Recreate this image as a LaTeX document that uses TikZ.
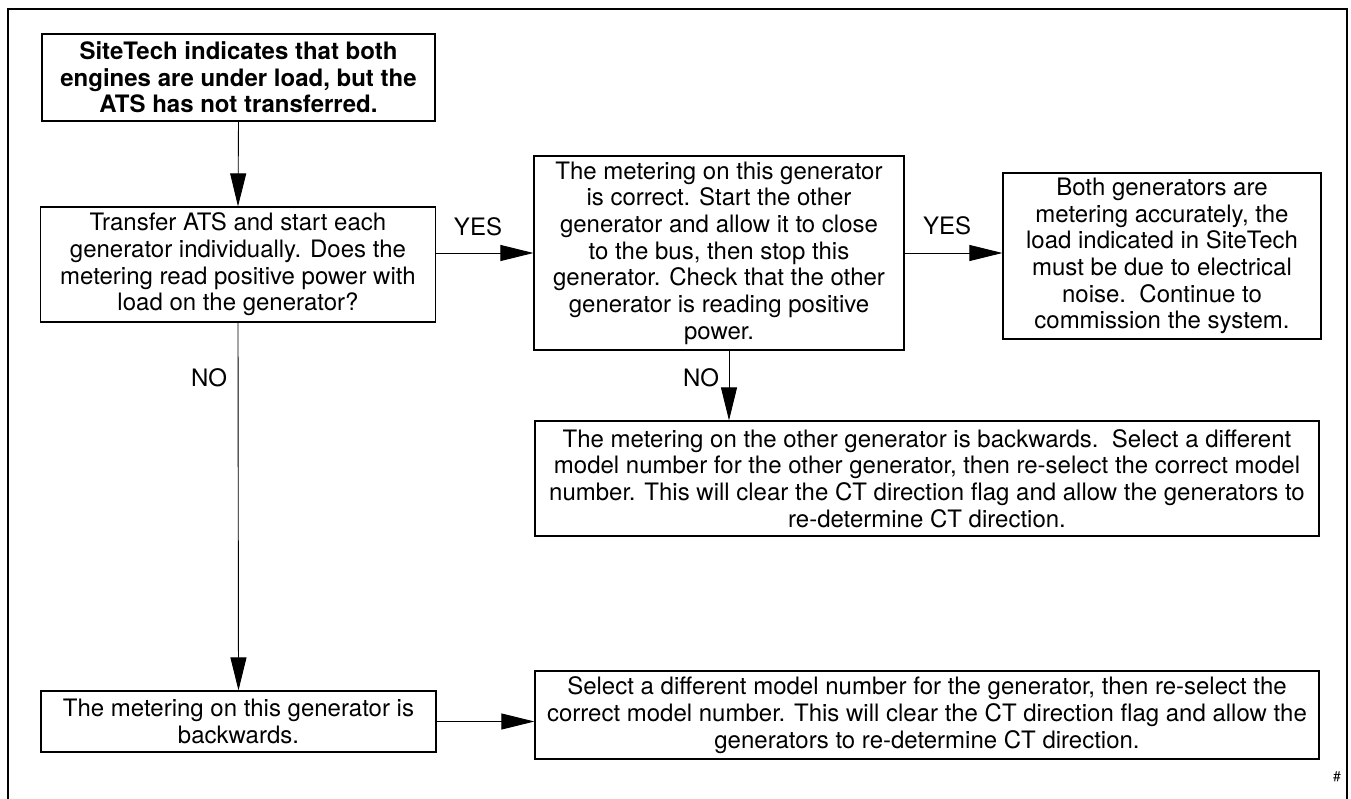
\documentclass[tikz,border=0pt]{standalone}
\usepackage{fontspec}
\setmainfont{TeX Gyre Heros}
\usetikzlibrary{arrows.meta,positioning}

\tikzset{
  box/.style={draw, line width=1.2pt, rectangle, align=center, inner sep=0pt,
    font=\fontsize{24}{26.7}\selectfont},
  arr/.style={draw, line width=0.9pt, -{Triangle[length=33pt,width=16pt]}},
  lbl/.style={font=\fontsize{24}{26.7}\selectfont, inner sep=0pt},
  frame/.style={line width=1.8pt}
}

\begin{document}
\begin{tikzpicture}[x=1pt,y=-1pt]
\useasboundingbox (0,0) rectangle (1351,799);
\fill[white] (0,0) rectangle (1351,799);

% outer border, open at the bottom
\draw[frame] (8,799) -- (8,9) -- (1347,9) -- (1347,799);

% process boxes
\node[box, minimum width=393pt, minimum height=87pt, font=\fontsize{24}{26.7}\selectfont\bfseries]
  (start) at (238.5,77.5) {SiteTech indicates that both\\engines are under load, but the\\ATS has not transferred.};
\node[box, minimum width=395pt, minimum height=115pt]
  (check) at (238,264.5) {Transfer ATS and start each\\generator individually. Does the\\metering read positive power with\\load on the generator?};
\node[box, minimum width=370pt, minimum height=194pt]
  (correct) at (719,253) {The metering on this generator\\is correct. Start the other\\generator and allow it to close\\to the bus, then stop this\\generator. Check that the other\\generator is reading positive\\power.};
\node[box, minimum width=318pt, minimum height=166pt]
  (noise) at (1162,256) {Both generators are\\metering accurately, the\\load indicated in SiteTech\\must be due to electrical\\noise.\ \ Continue to\\commission the system.};
\node[box, minimum width=784pt, minimum height=115pt]
  (otherback) at (927,478.5) {The metering on the other generator is backwards.\ \ Select a different\\model number for the other generator, then re-select the correct model\\number. This will clear the CT direction flag and allow the generators to\\re-determine CT direction.};
\node[box, minimum width=395pt, minimum height=61pt]
  (thisback) at (238.5,721.5) {The metering on this generator is\\backwards.};
\node[box, minimum width=784pt, minimum height=88pt]
  (reselect) at (927,715) {Select a different model number for the generator, then re-select the\\correct model number. This will clear the CT direction flag and allow the\\generators to re-determine CT direction.};

% connectors
\draw[arr] (start.south) -- (check.north);
\draw[arr] (check.east |- correct.west) -- (correct.west);
\draw[arr] (correct.east) -- (noise.west |- correct.east);
\draw[arr] ([xshift=10pt]correct.south) -- ([xshift=10pt]correct.south |- otherback.north);
\draw[arr] (check.south) -- (thisback.north);
\draw[arr] (thisback.east) -- (reselect.west |- thisback.east);

% branch labels
\node[lbl] (yes1) at (478,227) {YES};
\node[lbl] (yes2) at (947,226) {YES};
\node[lbl] (no1) at (701,378) {NO};
\node[lbl] (no2) at (209,378) {NO};

\node[font=\fontsize{14}{16}\selectfont, inner sep=0pt] (hash) at (1337,777) {\#};
\end{tikzpicture}
\end{document}
